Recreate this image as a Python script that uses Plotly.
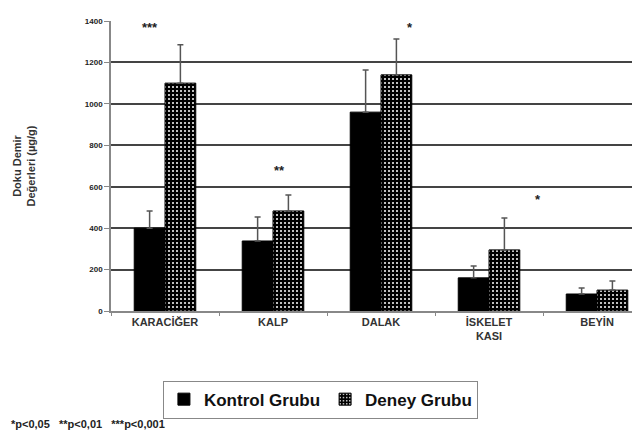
import plotly.graph_objects as go

categories = ["KARACİĞER", "KALP", "DALAK", "İSKELET<br>KASI", "BEYİN"]
kontrol = [400, 338, 960, 160, 82]
kontrol_err = [83, 116, 203, 57, 29]
deney = [1100, 483, 1140, 295, 101]
deney_err = [185, 77, 173, 154, 44]
y_ticks = [0, 200, 400, 600, 800, 1000, 1200, 1400]

sig_labels = ["***", "**", "*", "*"]
sig_x = [-0.14, 1.06, 2.27, 3.45]
sig_y = [1370, 680, 1370, 540]

font_fam = "Liberation Sans, Arial, sans-serif"

fig = go.Figure()
fig.add_trace(go.Bar(
    name="<b>Kontrol Grubu</b>", x=categories, y=kontrol,
    marker=dict(color="black", line=dict(color="black", width=1)),
    error_y=dict(type="data", array=kontrol_err, arrayminus=[0]*5, symmetric=False,
                 color="#555555", thickness=1.5, width=3),
))
fig.add_trace(go.Bar(
    name="<b>Deney Grubu</b>", x=categories, y=deney,
    marker=dict(color="black", line=dict(color="black", width=1),
                pattern=dict(shape=".", fillmode="replace", bgcolor="black",
                             fgcolor="white", size=4, solidity=0.2)),
    error_y=dict(type="data", array=deney_err, arrayminus=[0]*5, symmetric=False,
                 color="#555555", thickness=1.5, width=3),
))

for lab, xx, yy in zip(sig_labels, sig_x, sig_y):
    fig.add_annotation(x=xx, y=yy, xref="x", yref="y", text="<b>" + lab + "</b>",
                       showarrow=False, font=dict(size=13, color="#222", family=font_fam))

fig.add_annotation(x=-0.19, y=-0.39, xref="paper", yref="paper", xanchor="left",
                   yanchor="middle", showarrow=False,
                   text="<b>*p<0,05   **p<0,01   ***p<0,001</b>",
                   font=dict(size=11, color="#222", family=font_fam))

fig.update_layout(
    width=640, height=434,
    margin=dict(l=103, r=0, t=13, b=131),
    paper_bgcolor="white", plot_bgcolor="white",
    barmode="group", bargap=0.43, bargroupgap=0,
    font=dict(family=font_fam, color="#222"),
    legend=dict(orientation="h", x=0.39, xanchor="center", y=-0.24, yanchor="top",
                font=dict(size=17, color="#111", family=font_fam),
                bordercolor="#888", borderwidth=1, bgcolor="white",
                itemwidth=30, traceorder="normal"),
    showlegend=True,
)
fig.update_xaxes(
    type="category", range=[-0.5, 4.472],
    showline=True, linecolor="#888", linewidth=1.5,
    tickson="boundaries", ticks="outside", ticklen=3, tickcolor="#888",
    ticktext=["<b>" + c + "</b>" for c in categories], tickvals=categories,
    tickfont=dict(size=11, color="#333", family=font_fam),
    showgrid=False,
)
fig.update_yaxes(
    range=[0, 1400], tickvals=y_ticks, ticktext=["<b>%d</b>" % v for v in y_ticks],
    tickfont=dict(size=8, color="#222"),
    showline=True, linecolor="#888", linewidth=1.5,
    ticks="outside", ticklen=5, tickcolor="#888",
    showgrid=True, gridcolor="#444", gridwidth=1.5,
    title=dict(text="<b>Doku Demir<br>Değerleri (µg/g)</b>", font=dict(size=11, color="#333"),
               standoff=47),
    zeroline=False,
)
fig.write_html("out.html")
